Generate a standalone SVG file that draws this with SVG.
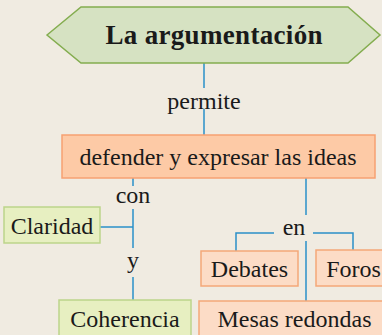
<svg xmlns="http://www.w3.org/2000/svg" width="382" height="335" viewBox="0 0 382 335">
<style>
.t{font-family:'Liberation Serif','Times New Roman','DejaVu Serif',serif;font-size:24px;fill:#1a1a1a;text-anchor:middle}
.b{font-weight:bold;font-size:27px}
.o{fill:#fdcaa6;stroke:#f6a172;stroke-width:1.5}
.o2{fill:#fcdcc6;stroke:#f4a878;stroke-width:1.5}
.g{fill:#e7efc1;stroke:#bcd58a;stroke-width:1.5}
.c line,.c polyline{stroke:#2a90c8;stroke-width:1.5;fill:none}
</style>
<rect width="382" height="335" fill="#f0ebe1"/>
<g class="c" id="connectors">
<line x1="204" y1="63" x2="204" y2="88"/>
<line x1="204" y1="109" x2="204" y2="135"/>
<line x1="133" y1="178" x2="133" y2="186"/>
<line x1="133" y1="209" x2="133" y2="248"/>
<line x1="100" y1="227" x2="133" y2="227"/>
<line x1="133" y1="277" x2="133" y2="300"/>
<line x1="306" y1="178" x2="306" y2="215"/>
<line x1="306" y1="241" x2="306" y2="301"/>
<polyline points="236,251 236,233 274,233"/>
<polyline points="313,233 353,233 353,250"/>
</g>
<g id="n-main">
<polygon points="47,35 81,7 348,7 380,35 348,63 81,63" fill="#d6e2c2" stroke="#84ad4f" stroke-width="1.5"/>
<text class="t b" x="214" y="44" textLength="217">La argumentación</text>
</g>
<g id="l-permite"><text class="t" x="204" y="109">permite</text></g>
<g id="n-defender">
<rect class="o" x="62" y="135" width="313" height="43"/>
<text class="t" x="218" y="165">defender y expresar las ideas</text>
</g>
<g id="l-con"><text class="t" x="133" y="203">con</text></g>
<g id="n-claridad">
<rect class="g" x="4" y="207" width="96" height="36"/>
<text class="t" x="52" y="234">Claridad</text>
</g>
<g id="l-y"><text class="t" x="133" y="268">y</text></g>
<g id="n-coherencia">
<rect class="g" x="59" y="300" width="132" height="45"/>
<text class="t" x="125" y="327">Coherencia</text>
</g>
<g id="l-en"><text class="t" x="294" y="235">en</text></g>
<g id="n-debates">
<rect class="o2" x="201" y="251" width="97" height="35"/>
<text class="t" x="249.5" y="277">Debates</text>
</g>
<g id="n-foros">
<rect class="o2" x="316" y="250" width="80" height="36"/>
<text class="t" x="353.5" y="277">Foros</text>
</g>
<g id="n-mesas">
<rect class="o2" x="199" y="301" width="195" height="45"/>
<text class="t" x="294.5" y="327">Mesas redondas</text>
</g>
</svg>
